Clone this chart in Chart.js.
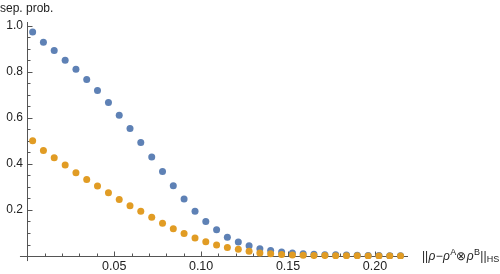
<!DOCTYPE html>
<html>
<head>
<meta charset="utf-8">
<script src="https://cdn.jsdelivr.net/npm/chart.js@4.4.1/dist/chart.umd.min.js"></script>
<style>
  html, body { margin: 0; padding: 0; background: #fff; }
  #wrap { width: 500px; height: 274px; }
</style>
</head>
<body>
<div id="wrap"><canvas id="sep_chart"></canvas></div>
<script>
'use strict';

// distance ||rho - rhoA (x) rhoB||_HS for each sample
const distances = [
    0.0031, 0.0093, 0.0155, 0.0218, 0.0280, 0.0342, 0.0404, 0.0467, 0.0529, 0.0591,
    0.0653, 0.0716, 0.0778, 0.0840, 0.0902, 0.0965, 0.1027, 0.1089, 0.1151, 0.1214,
    0.1276, 0.1338, 0.1400, 0.1463, 0.1525, 0.1587, 0.1649, 0.1712, 0.1774, 0.1836,
    0.1898, 0.1961, 0.2023, 0.2085, 0.2147
];
const sepProbBlue = [
    0.973, 0.929, 0.893, 0.851, 0.812, 0.767, 0.719, 0.667, 0.612, 0.554,
    0.493, 0.430, 0.367, 0.305, 0.248, 0.195, 0.150, 0.114, 0.082, 0.061,
    0.045, 0.032, 0.024, 0.017, 0.013, 0.010, 0.008, 0.006, 0.005, 0.004,
    0.003, 0.002, 0.002, 0.001, 0.001
];
const sepProbOrange = [
    0.501, 0.459, 0.427, 0.395, 0.362, 0.333, 0.304, 0.275, 0.246, 0.218,
    0.194, 0.168, 0.142, 0.119, 0.098, 0.078, 0.062, 0.048, 0.037, 0.029,
    0.021, 0.013, 0.010, 0.007, 0.004, 0.003, 0.002, 0.002, 0.001, 0.001,
    0.001, 0.000, 0.000, 0.000, 0.000
];
const xTickLabels = [0.05, 0.10, 0.15, 0.20];
const yTickLabels = [0.2, 0.4, 0.6, 0.8, 1.0];

const FONT = '"Liberation Sans", Arial, sans-serif';
const AXIS_COLOR = '#555';
const TEXT_COLOR = '#222';

function to_points(ys) {
    return distances.map((d, i) => ({ x: d, y: ys[i] }));
}

// Mathematica style axes crossing at the origin, ticks pointing inward
const mma_axes = {
    id: 'mma_axes',
    beforeDatasetsDraw(chart) {
        const { ctx, scales: { x, y } } = chart;
        const x0 = Math.round(x.getPixelForValue(0)) + 0.5;
        const y0 = Math.round(y.getPixelForValue(0)) + 0.5;
        ctx.save();
        ctx.strokeStyle = AXIS_COLOR;
        ctx.lineWidth = 1;
        ctx.beginPath();
        ctx.moveTo(x.getPixelForValue(-0.0042), y0);
        ctx.lineTo(x.right, y0);
        ctx.moveTo(x0, y.top);
        ctx.lineTo(x0, y.getPixelForValue(-0.022));
        for (let k = 1; k <= 21; k++) {
            const px = Math.round(x.getPixelForValue(k / 100)) + 0.5;
            const len = k % 5 === 0 ? 5 : 3;
            ctx.moveTo(px, y0);
            ctx.lineTo(px, y0 - len);
        }
        for (let k = 1; k <= 20; k++) {
            const py = Math.round(y.getPixelForValue(k / 20)) + 0.5;
            const len = k % 4 === 0 ? 5 : 3;
            ctx.moveTo(x0, py);
            ctx.lineTo(x0 + len, py);
        }
        ctx.stroke();
        ctx.restore();
    },
    afterDraw(chart) {
        const { ctx } = chart;
        ctx.save();
        ctx.fillStyle = TEXT_COLOR;
        ctx.textBaseline = 'alphabetic';
        ctx.textAlign = 'left';
        ctx.font = '12px ' + FONT;
        ctx.fillText('sep. prob.', 0, 12);

        // ||ρ−ρ^A⊗ρ^B||_HS
        const parts = [
            ['||', '12px', 0],
            ['ρ', 'italic 12px', 0],
            ['−', '12px', 0],
            ['ρ', 'italic 12px', 0],
            ['A', '9px', -5],
            ['⊗', '12px', 0],
            ['ρ', 'italic 12px', 0],
            ['B', '9px', -5],
            ['||', '12px', 0],
            ['HS', '9px', 2],
        ];
        let px = 422;
        const base = 260;
        parts.forEach(([txt, f, dy]) => {
            ctx.font = f + ' ' + FONT;
            ctx.fillText(txt, px, base + dy);
            px += ctx.measureText(txt).width + 0.3;
        });
        ctx.restore();
    }
};

document.addEventListener('DOMContentLoaded', function(_event) {
    const ctx = document.getElementById('sep_chart').getContext('2d');
    new Chart(ctx, {
        type: 'scatter',
        data: {
            datasets: [{
                label: 'blue',
                data: to_points(sepProbBlue),
                backgroundColor: '#5e81b5',
                order: 2,
            }, {
                label: 'orange',
                data: to_points(sepProbOrange),
                backgroundColor: '#e19c24',
                order: 1,
            }]
        },
        options: {
            responsive: true,
            maintainAspectRatio: false,
            animation: false,
            devicePixelRatio: 1,
            layout: { padding: { top: 22, right: 92, left: 0, bottom: 0 } },
            elements: { point: { radius: 3.5, borderWidth: 0, hoverRadius: 3.5 } },
            plugins: { legend: { display: false }, tooltip: { enabled: false } },
            scales: {
                x: {
                    type: 'linear',
                    min: -0.0013,
                    max: 0.219,
                    grid: { display: false, drawTicks: false },
                    border: { display: false },
                    afterFit: (scale) => { scale.height = 15; },
                    afterBuildTicks: (scale) => {
                        scale.ticks = xTickLabels.map(v => ({ value: v }));
                    },
                    ticks: {
                        padding: 0,
                        color: TEXT_COLOR,
                        font: { family: FONT, size: 12.5 },
                        maxRotation: 0,
                        autoSkip: false,
                        callback: (v) => v.toFixed(2),
                    },
                },
                y: {
                    type: 'linear',
                    min: -0.013,
                    max: 1.017,
                    grid: { display: false, drawTicks: false },
                    border: { display: false },
                    afterFit: (scale) => { scale.width = 25; },
                    afterBuildTicks: (scale) => {
                        scale.ticks = yTickLabels.map(v => ({ value: v }));
                    },
                    ticks: {
                        padding: 2,
                        color: TEXT_COLOR,
                        font: { family: FONT, size: 12 },
                        autoSkip: false,
                        callback: (v) => v.toFixed(1),
                    },
                },
            },
        },
        plugins: [mma_axes],
    });
});
</script>
</body>
</html>
